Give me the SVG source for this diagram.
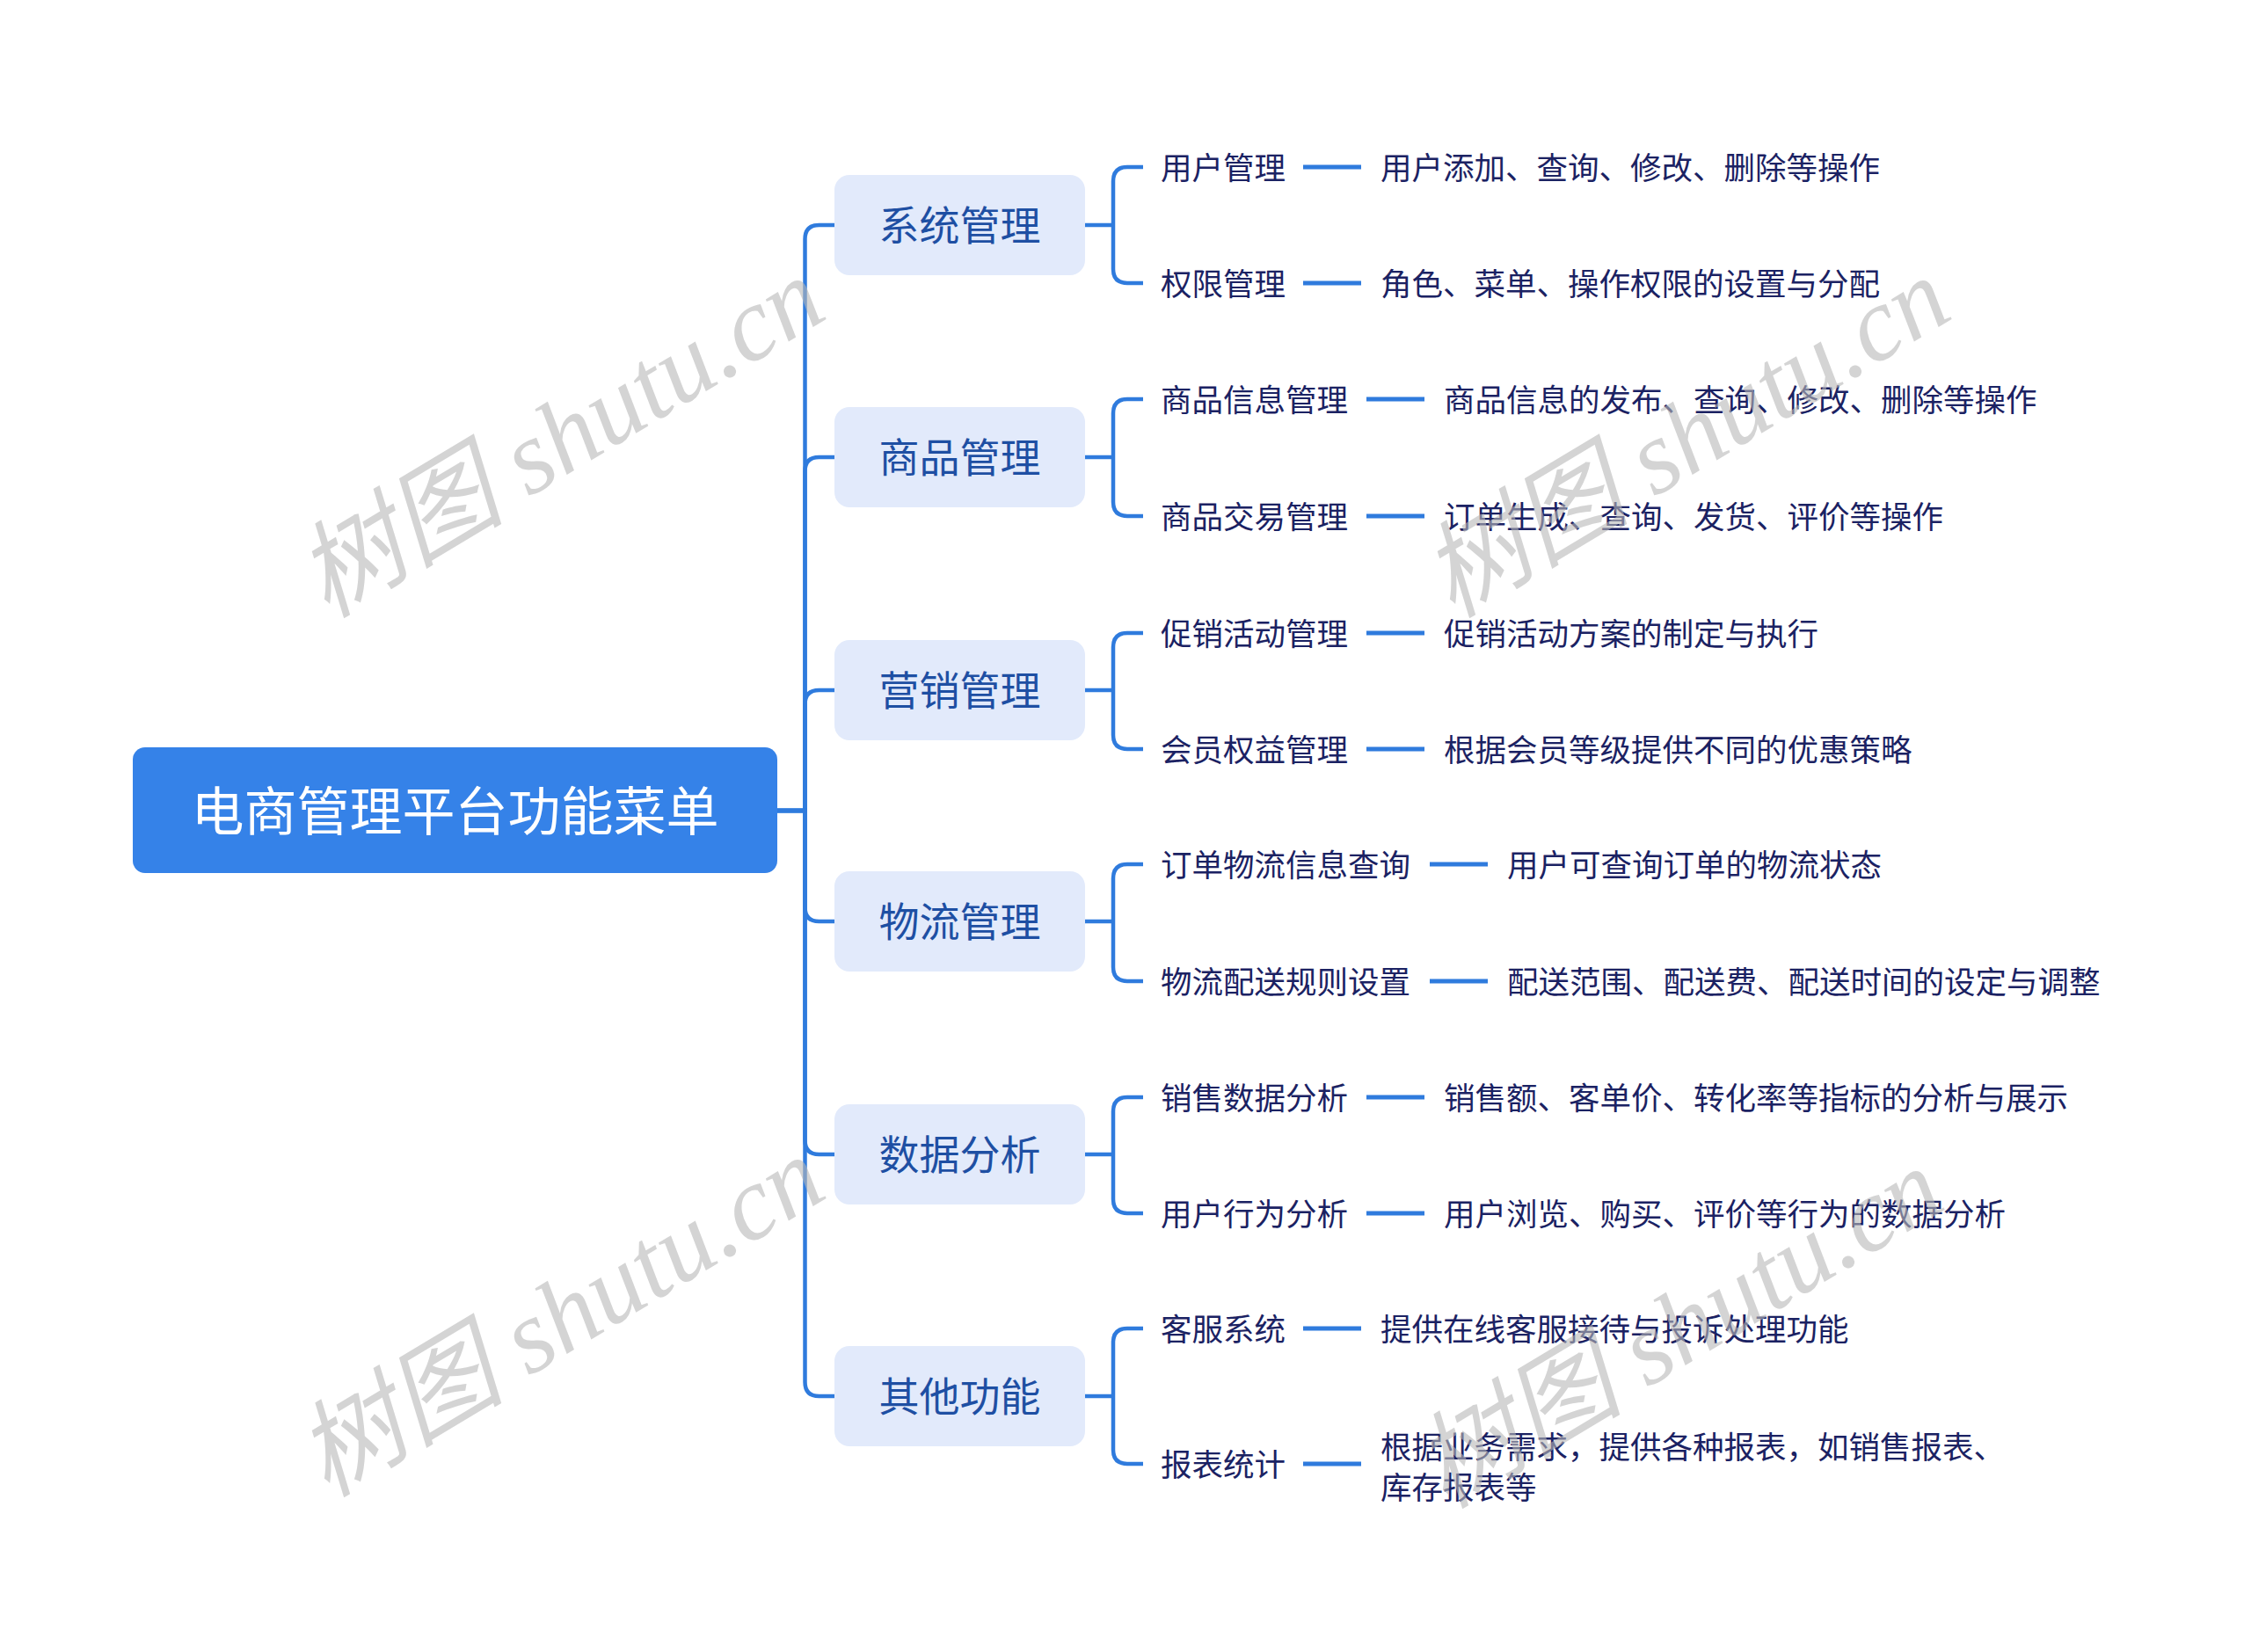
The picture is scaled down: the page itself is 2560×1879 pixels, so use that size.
<svg xmlns="http://www.w3.org/2000/svg" width="2560" height="1879" viewBox="0 0 2560 1879">
<style>
.bg{fill:#ffffff}
.root{fill:#3582E8}
.roott{fill:#ffffff;font-family:"Noto Sans CJK SC","Noto Sans",sans-serif;font-size:60px;text-anchor:middle;dominant-baseline:central}
.l1{fill:#E2EAFB}
.l1t{fill:#1E4FA3;font-family:"Noto Sans CJK SC","Noto Sans",sans-serif;font-size:46px;text-anchor:middle;dominant-baseline:central}
.t{fill:#1B2263;font-family:"Noto Sans CJK SC","Noto Sans",sans-serif;font-size:35.5px;dominant-baseline:central}
.c{fill:none;stroke:#2F7BDD;stroke-width:4.5;stroke-linecap:butt}
.d{fill:none;stroke:#2F7BDD;stroke-width:5}
.wm{fill:#b8b8b8;fill-opacity:0.6;font-family:"Liberation Serif","Noto Sans CJK SC",serif;font-style:italic;font-size:119px;text-anchor:middle}
</style>
<rect class="bg" x="0" y="0" width="2560" height="1879"/>
<g id="connectors">
<path class="c" d="M884 922 H915.5 V272 Q915.5 256 931.5 256 H950"/>
<path class="c" d="M884 922 H915.5 V536 Q915.5 520 931.5 520 H950"/>
<path class="c" d="M884 922 H915.5 V801 Q915.5 785 931.5 785 H950"/>
<path class="c" d="M884 922 H915.5 V1032 Q915.5 1048 931.5 1048 H950"/>
<path class="c" d="M884 922 H915.5 V1297 Q915.5 1313 931.5 1313 H950"/>
<path class="c" d="M884 922 H915.5 V1572 Q915.5 1588 931.5 1588 H950"/>
<path class="c" d="M1233 256 H1266 V206 Q1266 190 1282 190 H1300 M1266 256 V306 Q1266 322 1282 322 H1300"/>
<path class="c" d="M1233 520 H1266 V470 Q1266 454 1282 454 H1300 M1266 520 V571 Q1266 587 1282 587 H1300"/>
<path class="c" d="M1233 785 H1266 V736 Q1266 720 1282 720 H1300 M1266 785 V836 Q1266 852 1282 852 H1300"/>
<path class="c" d="M1233 1048 H1266 V999 Q1266 983 1282 983 H1300 M1266 1048 V1100 Q1266 1116 1282 1116 H1300"/>
<path class="c" d="M1233 1313 H1266 V1264 Q1266 1248 1282 1248 H1300 M1266 1313 V1364 Q1266 1380 1282 1380 H1300"/>
<path class="c" d="M1233 1588 H1266 V1527 Q1266 1511 1282 1511 H1300 M1266 1588 V1649 Q1266 1665 1282 1665 H1300"/>
<path class="d" d="M1482 190 H1548 M1482 322 H1548"/>
<path class="d" d="M1554 454 H1620 M1554 587 H1620"/>
<path class="d" d="M1554 720 H1620 M1554 852 H1620"/>
<path class="d" d="M1626 983 H1692 M1626 1116 H1692"/>
<path class="d" d="M1554 1248 H1620 M1554 1380 H1620"/>
<path class="d" d="M1482 1511 H1548 M1482 1665 H1548"/>
</g>
<g id="root">
<rect class="root" x="151" y="850" width="733" height="143" rx="14"/>
<text class="roott" x="517.5" y="918">电商管理平台功能菜单</text>
</g>
<g id="n-xitong">
<rect class="l1" x="949" y="199" width="285" height="114" rx="17"/>
<text class="l1t" x="1091.5" y="253">系统管理</text>
</g>
<g id="n-shangpin">
<rect class="l1" x="949" y="463" width="285" height="114" rx="17"/>
<text class="l1t" x="1091.5" y="517">商品管理</text>
</g>
<g id="n-yingxiao">
<rect class="l1" x="949" y="728" width="285" height="114" rx="17"/>
<text class="l1t" x="1091.5" y="782">营销管理</text>
</g>
<g id="n-wuliu">
<rect class="l1" x="949" y="991" width="285" height="114" rx="17"/>
<text class="l1t" x="1091.5" y="1045">物流管理</text>
</g>
<g id="n-shuju">
<rect class="l1" x="949" y="1256" width="285" height="114" rx="17"/>
<text class="l1t" x="1091.5" y="1310">数据分析</text>
</g>
<g id="n-qita">
<rect class="l1" x="949" y="1531" width="285" height="114" rx="17"/>
<text class="l1t" x="1091.5" y="1585">其他功能</text>
</g>
<g id="n-yonghu"><text class="t" x="1320" y="188">用户管理</text></g>
<g id="n-yonghu-d"><text class="t" x="1570" y="188">用户添加、查询、修改、删除等操作</text></g>
<g id="n-quanxian"><text class="t" x="1320" y="320">权限管理</text></g>
<g id="n-quanxian-d"><text class="t" x="1570" y="320">角色、菜单、操作权限的设置与分配</text></g>
<g id="n-spxx"><text class="t" x="1320" y="452">商品信息管理</text></g>
<g id="n-spxx-d"><text class="t" x="1642" y="452">商品信息的发布、查询、修改、删除等操作</text></g>
<g id="n-spjy"><text class="t" x="1320" y="585">商品交易管理</text></g>
<g id="n-spjy-d"><text class="t" x="1642" y="585">订单生成、查询、发货、评价等操作</text></g>
<g id="n-cxhd"><text class="t" x="1320" y="718">促销活动管理</text></g>
<g id="n-cxhd-d"><text class="t" x="1642" y="718">促销活动方案的制定与执行</text></g>
<g id="n-hyqy"><text class="t" x="1320" y="850">会员权益管理</text></g>
<g id="n-hyqy-d"><text class="t" x="1642" y="850">根据会员等级提供不同的优惠策略</text></g>
<g id="n-ddwl"><text class="t" x="1320" y="981">订单物流信息查询</text></g>
<g id="n-ddwl-d"><text class="t" x="1714" y="981">用户可查询订单的物流状态</text></g>
<g id="n-wlps"><text class="t" x="1320" y="1114">物流配送规则设置</text></g>
<g id="n-wlps-d"><text class="t" x="1714" y="1114">配送范围、配送费、配送时间的设定与调整</text></g>
<g id="n-xssj"><text class="t" x="1320" y="1246">销售数据分析</text></g>
<g id="n-xssj-d"><text class="t" x="1642" y="1246">销售额、客单价、转化率等指标的分析与展示</text></g>
<g id="n-yhxw"><text class="t" x="1320" y="1378">用户行为分析</text></g>
<g id="n-yhxw-d"><text class="t" x="1642" y="1378">用户浏览、购买、评价等行为的数据分析</text></g>
<g id="n-kefu"><text class="t" x="1320" y="1509">客服系统</text></g>
<g id="n-kefu-d"><text class="t" x="1570" y="1509">提供在线客服接待与投诉处理功能</text></g>
<g id="n-baobiao"><text class="t" x="1320" y="1663">报表统计</text></g>
<g id="n-baobiao-d"><text class="t" x="1570" y="1643">根据业务需求，提供各种报表，如销售报表、</text><text class="t" x="1570" y="1689">库存报表等</text></g>
<g id="watermarks">
<text class="wm" transform="translate(658 532) rotate(-31)">树图 shutu.cn</text>
<text class="wm" transform="translate(1938 532) rotate(-31)">树图 shutu.cn</text>
<text class="wm" transform="translate(658 1532) rotate(-31)">树图 shutu.cn</text>
<text class="wm" transform="translate(1930 1545) rotate(-31)">树图 shutu.cn</text>
</g>
</svg>
